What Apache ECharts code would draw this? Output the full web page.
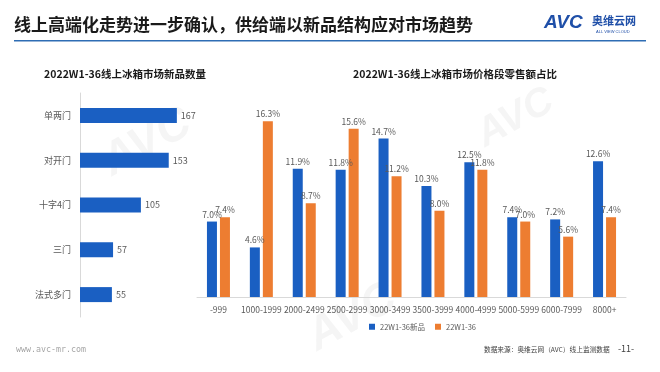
<!DOCTYPE html>
<html><head><meta charset="utf-8">
<script src="https://cdn.jsdelivr.net/npm/echarts@6/dist/echarts.min.js"></script>
<style>html,body{margin:0;padding:0;background:#fff}#c{width:660px;height:372px}</style>
</head><body><div id="c"></div>
<script>
var leftCats = ['单两门','对开门','十字4门','三门','法式多门'];
var leftVals = [167,153,105,57,55];
var priceCats = ['-999','1000-1999','2000-2499','2500-2999','3000-3499','3500-3999','4000-4999','5000-5999','6000-7999','8000+'];
var newShare = [7.0,4.6,11.9,11.8,14.7,10.3,12.5,7.4,7.2,12.6];
var allShare = [7.4,16.3,8.7,15.6,11.2,8.0,11.8,7.0,5.6,7.4];
var seriesNames = ['22W1-36新品','22W1-36'];

var BLUE = '#1a5fc2', ORANGE = '#ed7d31', GRAY = '#595959';
var chart = echarts.init(document.getElementById('c'));
var font = '"Noto Sans CJK SC", "Noto Sans", sans-serif';
function wm(x, y, rot, size, txt){
  return {type: 'text', x: x, y: y, rotation: rot, z: -10,
    style: {text: txt, font: 'italic bold ' + size + 'px "Liberation Sans", sans-serif', fill: 'rgba(120,120,120,0.07)'}};
}
chart.setOption({
  animation: false,
  textStyle: {fontFamily: font},
  title: [
    {text: '2022W1-36线上冰箱市场新品数量', left: 120, top: 64, textAlign: 'center',
     textStyle: {fontSize: 10.5, fontWeight: 'bold', color: '#1a1a1a', fontFamily: font}},
    {text: '2022W1-36线上冰箱市场价格段零售额占比', left: 450, top: 64, textAlign: 'center',
     textStyle: {fontSize: 10.5, fontWeight: 'bold', color: '#1a1a1a', fontFamily: font}}
  ],
  legend: {
    data: seriesNames, left: 364, top: 318, itemWidth: 6, itemHeight: 6, itemGap: 10,
    icon: 'rect', textStyle: {fontSize: 7.5, color: GRAY}
  },
  grid: [
    {left: 80, top: 93, width: 116, height: 224},
    {left: 197, top: 103, width: 429, height: 194}
  ],
  xAxis: [
    {gridIndex: 0, type: 'value', min: 0, max: 200, show: false},
    {gridIndex: 1, type: 'category', data: priceCats,
     axisLine: {lineStyle: {color: '#d9d9d9'}}, axisTick: {show: false},
     axisLabel: {fontSize: 8.5, color: GRAY, interval: 0, margin: 9}}
  ],
  yAxis: [
    {gridIndex: 0, type: 'category', data: leftCats, inverse: true,
     axisLine: {lineStyle: {color: '#d9d9d9'}}, axisTick: {show: false},
     axisLabel: {fontSize: 9, color: GRAY, margin: 9}},
    {gridIndex: 1, type: 'value', min: 0, max: 18, show: false}
  ],
  series: [
    {type: 'bar', xAxisIndex: 0, yAxisIndex: 0, data: leftVals, barWidth: 15,
     itemStyle: {color: BLUE},
     label: {show: true, position: 'right', fontSize: 9, color: GRAY, distance: 4}},
    {name: seriesNames[0], type: 'bar', xAxisIndex: 1, yAxisIndex: 1, data: newShare,
     barWidth: 10, barGap: '30%', itemStyle: {color: BLUE},
     label: {show: true, position: 'top', fontSize: 8.5, color: GRAY, distance: 3,
       formatter: function(p){return p.value.toFixed(1)+'%';}}},
    {name: seriesNames[1], type: 'bar', xAxisIndex: 1, yAxisIndex: 1, data: allShare,
     barWidth: 10, itemStyle: {color: ORANGE},
     label: {show: true, position: 'top', fontSize: 8.5, color: GRAY, distance: 3,
       formatter: function(p){return p.value.toFixed(1)+'%';}}}
  ],
  graphic: [
    wm(95, 145, 0.5, 46, 'AVC'),
    wm(300, 320, 0.5, 46, 'AVC'),
    wm(470, 120, 0.5, 40, 'AVC'),
    {type: 'text', left: 14, top: 16, style: {text: '线上高端化走势进一步确认，供给端以新品结构应对市场趋势',
      font: 'bold 17px ' + font, fill: '#1a1a1a'}},
    {type: 'rect', shape: {x: 14, y: 40, width: 632, height: 1.5}, style: {fill: '#2e6db4'}},
    {type: 'text', left: 544, top: 13, style: {text: 'AVC', font: 'italic bold 19px "Liberation Sans", sans-serif', fill: '#1f4fa8'}},
    {type: 'text', left: 592, top: 15, style: {text: '奥维云网', font: 'bold 11px ' + font, fill: '#1f4fa8'}},
    {type: 'text', left: 596, top: 30, style: {text: 'ALL VIEW CLOUD', font: '4px sans-serif', fill: '#1f4fa8'}},
    {type: 'text', left: 16, top: 346, style: {text: 'www.avc-mr.com', font: '8.3px "DejaVu Sans Mono", monospace', fill: '#a6a6a6'}},
    {type: 'text', left: 484, top: 346, style: {text: '数据来源：奥维云网（AVC）线上监测数据', font: '6.7px ' + font, fill: '#404040'}},
    {type: 'text', left: 618, top: 344, style: {text: '-11-', font: '9px ' + font, fill: '#404040'}}
  ]
});
</script></body></html>
